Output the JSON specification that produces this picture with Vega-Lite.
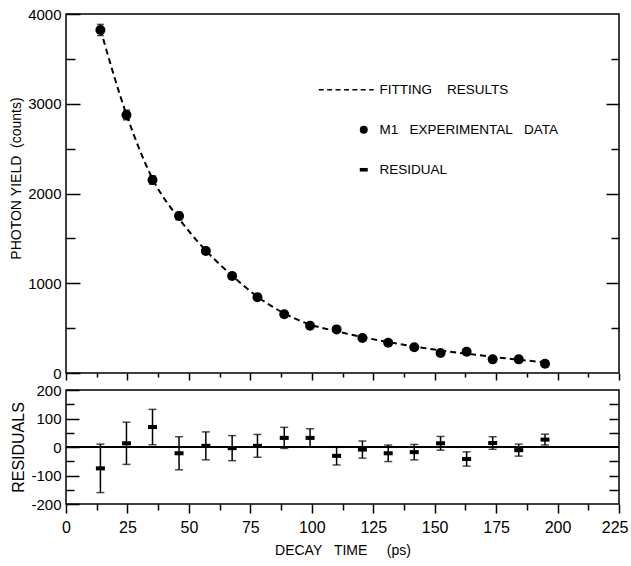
{
  "$schema": "https://vega.github.io/schema/vega-lite/v6.json",
  "background": "white",
  "padding": {"left": 8, "top": 6, "right": 10, "bottom": 5},
  "data": {
    "values": [
      {"t": 14.0, "y": 3822, "yerr": 62, "fit": 3830, "res": -75, "reserr": 85, "series": "M1\u00a0\u00a0\u00a0EXPERIMENTAL\u00a0\u00a0\u00a0DATA"},
      {"t": 24.6, "y": 2875, "yerr": 54, "fit": 2880, "res": 13, "reserr": 74, "series": "M1\u00a0\u00a0\u00a0EXPERIMENTAL\u00a0\u00a0\u00a0DATA"},
      {"t": 35.2, "y": 2150, "yerr": 46, "fit": 2165, "res": 70, "reserr": 62, "series": "M1\u00a0\u00a0\u00a0EXPERIMENTAL\u00a0\u00a0\u00a0DATA"},
      {"t": 46.0, "y": 1749, "yerr": 42, "fit": 1720, "res": -22, "reserr": 58, "series": "M1\u00a0\u00a0\u00a0EXPERIMENTAL\u00a0\u00a0\u00a0DATA"},
      {"t": 56.9, "y": 1359, "yerr": 37, "fit": 1365, "res": 4, "reserr": 49, "series": "M1\u00a0\u00a0\u00a0EXPERIMENTAL\u00a0\u00a0\u00a0DATA"},
      {"t": 67.6, "y": 1081, "yerr": 33, "fit": 1085, "res": -4, "reserr": 44, "series": "M1\u00a0\u00a0\u00a0EXPERIMENTAL\u00a0\u00a0\u00a0DATA"},
      {"t": 77.9, "y": 845, "yerr": 29, "fit": 850, "res": 4, "reserr": 40, "series": "M1\u00a0\u00a0\u00a0EXPERIMENTAL\u00a0\u00a0\u00a0DATA"},
      {"t": 88.8, "y": 655, "yerr": 26, "fit": 665, "res": 32, "reserr": 37, "series": "M1\u00a0\u00a0\u00a0EXPERIMENTAL\u00a0\u00a0\u00a0DATA"},
      {"t": 99.3, "y": 527, "yerr": 23, "fit": 540, "res": 32, "reserr": 32, "series": "M1\u00a0\u00a0\u00a0EXPERIMENTAL\u00a0\u00a0\u00a0DATA"},
      {"t": 110.1, "y": 486, "yerr": 22, "fit": 465, "res": -31, "reserr": 32, "series": "M1\u00a0\u00a0\u00a0EXPERIMENTAL\u00a0\u00a0\u00a0DATA"},
      {"t": 120.6, "y": 390, "yerr": 20, "fit": 400, "res": -9, "reserr": 30, "series": "M1\u00a0\u00a0\u00a0EXPERIMENTAL\u00a0\u00a0\u00a0DATA"},
      {"t": 131.1, "y": 338, "yerr": 18, "fit": 345, "res": -22, "reserr": 29, "series": "M1\u00a0\u00a0\u00a0EXPERIMENTAL\u00a0\u00a0\u00a0DATA"},
      {"t": 141.7, "y": 286, "yerr": 17, "fit": 295, "res": -18, "reserr": 27, "series": "M1\u00a0\u00a0\u00a0EXPERIMENTAL\u00a0\u00a0\u00a0DATA"},
      {"t": 152.4, "y": 223, "yerr": 15, "fit": 252, "res": 13, "reserr": 24, "series": "M1\u00a0\u00a0\u00a0EXPERIMENTAL\u00a0\u00a0\u00a0DATA"},
      {"t": 163.0, "y": 238, "yerr": 15, "fit": 215, "res": -42, "reserr": 25, "series": "M1\u00a0\u00a0\u00a0EXPERIMENTAL\u00a0\u00a0\u00a0DATA"},
      {"t": 173.6, "y": 152, "yerr": 12, "fit": 180, "res": 14, "reserr": 22, "series": "M1\u00a0\u00a0\u00a0EXPERIMENTAL\u00a0\u00a0\u00a0DATA"},
      {"t": 184.2, "y": 152, "yerr": 12, "fit": 148, "res": -11, "reserr": 21, "series": "M1\u00a0\u00a0\u00a0EXPERIMENTAL\u00a0\u00a0\u00a0DATA"},
      {"t": 194.9, "y": 104, "yerr": 10, "fit": 118, "res": 26, "reserr": 19, "series": "M1\u00a0\u00a0\u00a0EXPERIMENTAL\u00a0\u00a0\u00a0DATA"}
    ]
  },
  "config": {
    "view": {"stroke": "black", "strokeWidth": 1.5},
    "font": "Liberation Sans",
    "axis": {
      "domain": false,
      "grid": false,
      "ticks": true,
      "tickColor": "black",
      "tickOpacity": 1,
      "tickWidth": 1.5,
      "labelColor": "black",
      "titleColor": "black",
      "labelFont": "Liberation Sans",
      "labelFontSize": 15,
      "labelFlush": false,
      "labelOverlap": false,
      "format": "d",
      "titleFont": "Liberation Sans",
      "titleFontSize": 14,
      "titleFontWeight": "normal"
    },
    "axisX": {"ticks": true, "tickColor": "black", "tickOpacity": 1, "tickWidth": 1.5},
    "axisBottom": {"ticks": true, "tickColor": "black", "tickOpacity": 1, "tickWidth": 1.5},
    "axisQuantitative": {"ticks": true, "tickColor": "black", "tickOpacity": 1, "tickWidth": 1.5}
  },
  "spacing": 17,
  "bounds": "flush",
  "vconcat": [
    {
      "width": 553,
      "height": 359,
      "layer": [
        {
          "mark": {"type": "line", "color": "black", "strokeWidth": 2, "strokeDash": [6, 4], "interpolate": "monotone"},
          "encoding": {
            "x": {"field": "t", "type": "quantitative", "scale": {"domain": [0, 225], "nice": false},
              "axis": {"orient": "bottom", "values": [0, 12.5, 25, 37.5, 50, 62.5, 75, 87.5, 100, 112.5, 125, 137.5, 150, 162.5, 175, 187.5, 200, 212.5, 225],
                "ticks": true, "tickColor": "black", "tickOpacity": 1, "tickWidth": 1.5,
                "tickSize": {"condition": {"test": "datum.value % 25 === 0", "value": 7}, "value": 4}, "labels": false, "title": null}},
            "y": {"field": "fit", "type": "quantitative", "scale": {"domain": [0, 4000], "nice": false},
              "axis": {"orient": "left", "values": [0, 500, 1000, 1500, 2000, 2500, 3000, 3500, 4000], "ticks": true,
                "tickSize": {"condition": {"test": "datum.value % 1000 === 0", "value": -14}, "value": -9},
                "labelExpr": "datum.value % 1000 === 0 ? '' + datum.value : ''",
                "labelPadding": 19, "title": "PHOTON\u00a0YIELD\u00a0\u00a0(counts)", "titleY": 164}}
          }
        },
        {
          "mark": {"type": "errorbar", "color": "black", "ticks": {"size": 7, "thickness": 1.5, "color": "black"}, "rule": {"strokeWidth": 1.5, "color": "black"}},
          "encoding": {
            "x": {"field": "t", "type": "quantitative", "axis": null},
            "y": {"field": "y", "type": "quantitative",
              "axis": {"orient": "right", "values": [500, 1000, 1500, 2000, 2500, 3000, 3500], "ticks": true,
                "tickSize": {"condition": {"test": "datum.value % 1000 === 0", "value": -13}, "value": -8}, "labels": false, "title": null}},
            "yError": {"field": "yerr"}
          }
        },
        {
          "mark": {"type": "point", "filled": true, "color": "black", "size": 100, "opacity": 1},
          "encoding": {
            "x": {"field": "t", "type": "quantitative", "axis": null},
            "y": {"field": "y", "type": "quantitative", "axis": null},
            "shape": {
              "field": "series", "type": "nominal",
              "scale": {
                "domain": ["FITTING\u00a0\u00a0\u00a0\u00a0RESULTS", "M1\u00a0\u00a0\u00a0EXPERIMENTAL\u00a0\u00a0\u00a0DATA", "RESIDUAL"],
                "range": ["M-11.25,-0.2H-10V0.2H-11.25ZM-9.15,-0.2H-7.9V0.2H-9.15ZM-7.05,-0.2H-5.8V0.2H-7.05ZM-4.95,-0.2H-3.7V0.2H-4.95ZM-2.85,-0.2H-1.6V0.2H-2.85ZM-0.75,-0.2H0.5V0.2H-0.75ZM1.35,-0.2H2.5V0.2H1.35Z", "circle", "M-1,-0.45H1V0.45H-1Z"]
              },
              "legend": {
                "orient": "none", "legendX": 291, "legendY": 69, "title": null,
                "labelFont": "Liberation Sans", "labelFontSize": 13.5, "labelColor": "black", "labelLimit": 400,
                "symbolSize": 64, "labelOffset": 9, "rowPadding": 25, "padding": 0,
                "symbolStrokeWidth": 0.5, "symbolStrokeColor": "black", "symbolFillColor": "black"
              }
            }
          }
        }
      ],
      "resolve": {"axis": {"x": "independent", "y": "independent"}}
    },
    {
      "width": 553,
      "height": 114,
      "layer": [
        {
          "mark": {"type": "rule", "color": "black", "strokeWidth": 1.5},
          "encoding": {
            "y": {"datum": 0, "type": "quantitative", "scale": {"domain": [-200, 200], "nice": false},
              "axis": {"orient": "right", "values": [-150, -100, -50, 50, 100, 150], "ticks": true, "tickSize": -10, "labels": false, "title": null}}
          }
        },
        {
          "mark": {"type": "errorbar", "color": "black", "ticks": {"size": 8, "thickness": 1.5, "color": "black"}, "rule": {"strokeWidth": 1.5, "color": "black"}},
          "encoding": {
            "x": {"field": "t", "type": "quantitative", "scale": {"domain": [0, 225], "nice": false},
              "axis": {"orient": "bottom", "values": [0, 12.5, 25, 37.5, 50, 62.5, 75, 87.5, 100, 112.5, 125, 137.5, 150, 162.5, 175, 187.5, 200, 212.5, 225],
                "ticks": true, "tickColor": "black", "tickOpacity": 1, "tickWidth": 1.5,
                "tickSize": {"condition": {"test": "datum.value % 25 === 0", "value": 9}, "value": 6},
                "labelExpr": "datum.value % 25 === 0 ? '' + datum.value : ''",
                "labelPadding": 6, "labelFontSize": 16,
                "labelAlign": {"condition": {"test": "datum.value === 225", "value": "right"}, "value": "center"},
                "labelOffset": {"condition": {"test": "datum.value === 225", "value": 9}, "value": 0},
                "title": "DECAY\u00a0\u00a0\u00a0TIME\u00a0\u00a0\u00a0\u00a0\u00a0(ps)", "titlePadding": 8}},
            "y": {"field": "res", "type": "quantitative", "scale": {"domain": [-200, 200], "nice": false},
              "axis": {"orient": "left", "values": [-200, -150, -100, -50, 0, 50, 100, 150, 200], "ticks": true,
                "tickSize": {"condition": {"test": "datum.value % 100 === 0", "value": -13}, "value": -8},
                "labelExpr": "datum.value % 100 === 0 ? '' + datum.value : ''",
                "labelPadding": 18, "title": "RESIDUALS", "titleFontSize": 16}},
            "yError": {"field": "reserr"}
          }
        },
        {
          "mark": {"type": "point", "filled": true, "color": "black", "size": 81, "opacity": 1, "shape": "M-1,-0.45H1V0.45H-1Z"},
          "encoding": {
            "x": {"field": "t", "type": "quantitative", "axis": null},
            "y": {"field": "res", "type": "quantitative", "axis": null}
          }
        }
      ],
      "resolve": {"axis": {"x": "independent", "y": "independent"}}
    }
  ]
}
